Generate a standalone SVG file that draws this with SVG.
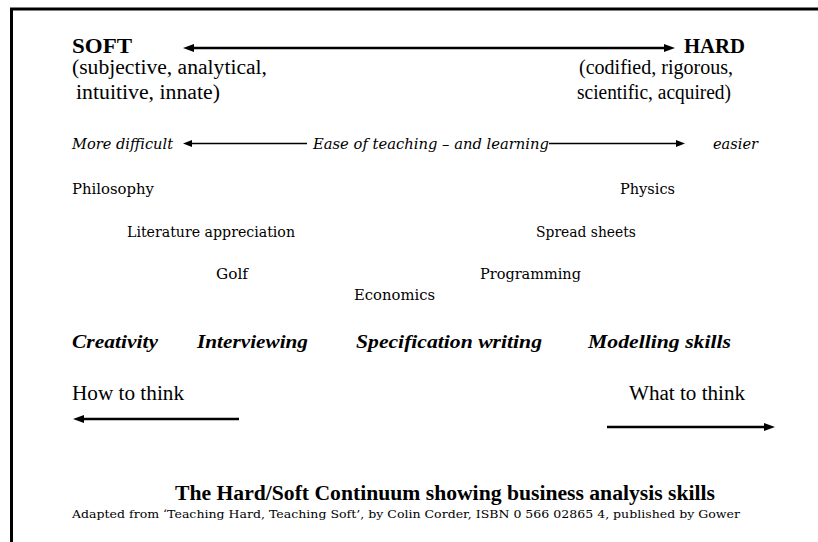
<svg xmlns="http://www.w3.org/2000/svg" width="818" height="542" viewBox="0 0 818 542">
<style>
.hd{font-weight:bold;font-size:22px;fill:#000}
.sub{font-size:20.5px;fill:#000}
.ease{font-style:italic;font-size:14px;fill:#000}
.item{font-size:14px;fill:#000}
.skill{font-weight:bold;font-style:italic;font-size:19px;fill:#000}
.think{font-size:20px;fill:#000}
.title{font-weight:bold;font-size:20px;fill:#000}
.cred{font-size:11.5px;fill:#000}
.thick{stroke:#000;stroke-width:2.5;fill:none}
.thin{stroke:#000;stroke-width:1.3;fill:none}
</style>
<defs>
<marker id="hBig" markerUnits="userSpaceOnUse" markerWidth="12" markerHeight="10" refX="0" refY="4" orient="auto-start-reverse">
<path d="M0,0 L11,4 L0,8 z" fill="#000"/>
</marker>
<marker id="hSmall" markerUnits="userSpaceOnUse" markerWidth="10" markerHeight="8" refX="0" refY="3.5" orient="auto-start-reverse">
<path d="M0,0 L9,3.5 L0,7 z" fill="#000"/>
</marker>
</defs>
<rect x="0" y="0" width="818" height="542" fill="#fff"/>
<g id="frame">
<line x1="10" y1="9" x2="818" y2="9" stroke="#000" stroke-width="3"/>
<line x1="11.5" y1="8" x2="11.5" y2="542" stroke="#000" stroke-width="3"/>
</g>
<g id="connectors">
<line class="thick" x1="194" y1="48" x2="664" y2="48" marker-start="url(#hBig)" marker-end="url(#hBig)"/>
<line class="thin" x1="192" y1="143.5" x2="307" y2="143.5" marker-start="url(#hSmall)"/>
<line class="thin" x1="549" y1="143.5" x2="676" y2="143.5" marker-end="url(#hSmall)"/>
<line class="thick" x1="84" y1="419" x2="239" y2="419" marker-start="url(#hBig)"/>
<line class="thick" x1="607" y1="427" x2="764" y2="427" marker-end="url(#hBig)"/>
</g>
<g font-family="Liberation Serif, Tinos, Times New Roman, serif">
<g id="soft">
<text class="hd" x="72" y="53" textLength="60" lengthAdjust="spacingAndGlyphs">SOFT</text>
<text class="sub" x="72" y="74" textLength="195" lengthAdjust="spacingAndGlyphs">(subjective, analytical,</text>
<text class="sub" x="76" y="99" textLength="144" lengthAdjust="spacingAndGlyphs">intuitive, innate)</text>
</g>
<g id="hard">
<text class="hd" x="684" y="53" textLength="61" lengthAdjust="spacingAndGlyphs">HARD</text>
<text class="sub" x="579" y="74" textLength="154" lengthAdjust="spacingAndGlyphs">(codified, rigorous,</text>
<text class="sub" x="577" y="99" textLength="154" lengthAdjust="spacingAndGlyphs">scientific, acquired)</text>
</g>
<g id="skills">
<text class="skill" x="72" y="348" textLength="86" lengthAdjust="spacingAndGlyphs">Creativity</text>
<text class="skill" x="197" y="348" textLength="111" lengthAdjust="spacingAndGlyphs">Interviewing</text>
<text class="skill" x="356" y="348" textLength="186" lengthAdjust="spacingAndGlyphs">Specification writing</text>
<text class="skill" x="588" y="348" textLength="143" lengthAdjust="spacingAndGlyphs">Modelling skills</text>
</g>
<g id="how"><text class="think" x="72" y="400" textLength="112" lengthAdjust="spacingAndGlyphs">How to think</text></g>
<g id="what"><text class="think" x="629" y="400" textLength="116" lengthAdjust="spacingAndGlyphs">What to think</text></g>
<g id="title"><text class="title" x="175" y="500" textLength="540" lengthAdjust="spacingAndGlyphs">The Hard/Soft Continuum showing business analysis skills</text></g>
</g>
<g font-family="DejaVu Serif, serif">
<g id="ease">
<text class="ease" x="72" y="149" textLength="101" lengthAdjust="spacingAndGlyphs">More difficult</text>
<text class="ease" x="313" y="149" textLength="236" lengthAdjust="spacingAndGlyphs">Ease of teaching – and learning</text>
<text class="ease" x="713" y="149" textLength="45" lengthAdjust="spacingAndGlyphs">easier</text>
</g>
<g id="philosophy"><text class="item" x="72" y="194" textLength="82" lengthAdjust="spacingAndGlyphs">Philosophy</text></g>
<g id="physics"><text class="item" x="620" y="194" textLength="55" lengthAdjust="spacingAndGlyphs">Physics</text></g>
<g id="literature"><text class="item" x="127" y="237" textLength="168" lengthAdjust="spacingAndGlyphs">Literature appreciation</text></g>
<g id="spreadsheets"><text class="item" x="536" y="237" textLength="100" lengthAdjust="spacingAndGlyphs">Spread sheets</text></g>
<g id="golf"><text class="item" x="216" y="279" textLength="32" lengthAdjust="spacingAndGlyphs">Golf</text></g>
<g id="programming"><text class="item" x="480" y="279" textLength="101" lengthAdjust="spacingAndGlyphs">Programming</text></g>
<g id="economics"><text class="item" x="354" y="300" textLength="81" lengthAdjust="spacingAndGlyphs">Economics</text></g>
<g id="credit"><text class="cred" x="72" y="518" textLength="668" lengthAdjust="spacingAndGlyphs">Adapted from ‘Teaching Hard, Teaching Soft’, by Colin Corder,  ISBN 0 566 02865 4, published by Gower</text></g>
</g>
</svg>
